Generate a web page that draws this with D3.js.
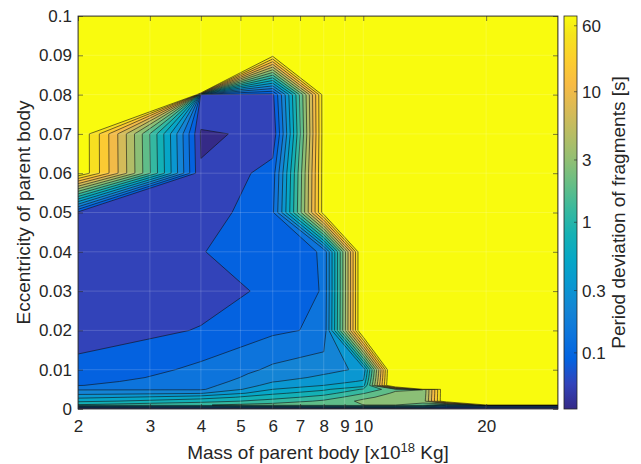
<!DOCTYPE html>
<html lang="en">
<head>
  <meta charset="utf-8">
  <script src="https://d3js.org/d3.v7.min.js"></script>
  <title>Period deviation of fragments</title>
  <style>
    body { margin: 0; background: #fff; }
    svg text { font-family: Helvetica, "Liberation Sans", Arial, sans-serif; fill: #262626; }
  </style>
</head>
<body>
<div id="my_dataviz"></div>
<script>
  // simulation grid: parent body mass [x10^18 Kg] and eccentricity
  const masses = [2, 4, 6, 8, 10, 12, 14, 16, 20, 30];
  const eccentricities = [0, 0.001, 0.002, 0.003, 0.004, 0.005, 0.006, 0.007, 0.008, 0.009,
    0.01, 0.02, 0.03, 0.04, 0.05, 0.06, 0.07, 0.08, 0.09, 0.1];

  // log10 of the period deviation [s]; one row per eccentricity (bottom to top), one column per mass
  // H = runs where the deviation blows up (saturated yellow)
  const H = 60;
  const logDeviation = [
    [-1.5, -1.5, -1.5, -1.5, -1.5, -1.5, -1.5, -1.5, -1.5, -1.5],   // 0
    [0.1, 0.25, 0.35, 0.4, 0.45, 0.45, 0.4, -0.2, -0.2, -0.2],       // 0.001
    [-0.15, 0, 0.15, 0.3, 0.5, 0.55, 0.5, 2, H, H],                  // 0.002
    [-0.35, -0.2, 0, 0.15, 0.4, 0.55, 0.48, 2, H, H],                // 0.003
    [-0.55, -0.5, -0.15, 0, 0.25, 0.5, 0.46, 2, H, H],               // 0.004
    [-0.7, -0.7, -0.3, -0.15, 0.1, 0.4, 0.45, 2, H, H],              // 0.005
    [-0.87, -0.74, -0.42, -0.3, -0.2, 2.33, H, H, H, H],             // 0.006
    [-0.9, -0.77, -0.5, -0.38, -0.28, 2.33, H, H, H, H],             // 0.007
    [-0.93, -0.79, -0.56, -0.45, -0.35, 2.33, H, H, H, H],           // 0.008
    [-0.96, -0.8, -0.6, -0.5, -0.4, 2.33, H, H, H, H],               // 0.009
    [-0.99, -0.82, -0.64, -0.55, -0.45, 2.33, H, H, H, H],           // 0.01
    [-1.15, -1.04, -0.9, -0.83, 2, H, H, H, H, H],                   // 0.02
    [-1.15, -1.15, -1, -0.85, 2, H, H, H, H, H],                     // 0.03
    [-1.15, -1.06, -0.95, -0.85, 2, H, H, H, H, H],                  // 0.04
    [-1.1, -1.15, -0.9, 1.7, H, H, H, H, H, H],                      // 0.05
    [1.78, -1.231, -0.96, 1.7, H, H, H, H, H, H],                    // 0.06
    [1.78, -1.26, -1.206, 1.7, H, H, H, H, H, H],                    // 0.07
    [H, -1.1, -1.1, 1.7, H, H, H, H, H, H],                          // 0.08
    [H, H, 1.65, H, H, H, H, H, H, H],                               // 0.09
    [H, H, H, H, H, H, H, H, H, H]                                   // 0.1
  ];

  const xTicks = [2, 3, 4, 5, 6, 7, 8, 9, 10, 20];
  const yTicks = [0, 0.01, 0.02, 0.03, 0.04, 0.05, 0.06, 0.07, 0.08, 0.09, 0.1];
  const colorTicks = [0.1, 0.3, 1, 3, 10, 32];
  const colorTickLabels = ["0.1", "0.3", "1", "3", "10", "60"];
  const colorDomain = [-1.43, 1.58];   // log10 [s] at the ends of the colour bar
  const nLevels = 16;

  // parula colormap (every 4th entry of the 64 colour table)
  const parula = ["#352a87", "#3243ba", "#0363e1", "#0d75dc", "#1485d4", "#0998d1", "#06a7c6",
    "#15b1b4", "#38b99e", "#65be86", "#92bf73", "#b7bd64", "#d9ba56", "#f8bb44", "#fcce2e",
    "#f5e41d", "#f9fb0e"];
  const parulaPos = [0, 4, 8, 12, 16, 20, 24, 28, 32, 36, 40, 44, 48, 52, 56, 60, 63].map(d => d / 63);
  const cmap = d3.scaleLinear().domain(parulaPos).range(parula).interpolate(d3.interpolateRgb);

  // set the dimensions and margins of the graph
  const margin = { top: 16, right: 83, bottom: 55, left: 78 },
    width = 641 - margin.left - margin.right,
    height = 464 - margin.top - margin.bottom;

  const svg = d3.select("#my_dataviz")
    .append("svg")
    .attr("width", width + margin.left + margin.right)
    .attr("height", height + margin.top + margin.bottom)
    .append("g")
    .attr("transform", `translate(${margin.left},${margin.top})`);

  const x = d3.scaleLog().domain([2, 30]).range([0, width]);
  const y = d3.scaleLinear().domain([0, 0.1]).range([height, 0]);

  // contour levels, evenly spaced in log10
  const step = (colorDomain[1] - colorDomain[0]) / nLevels;
  const levels = d3.range(1, nLevels + 1).map(k => colorDomain[0] + k * step);
  const levelColor = v => cmap((v - colorDomain[0]) / (colorDomain[1] - colorDomain[0]));

  const nx = masses.length, ny = eccentricities.length;
  const values = logDeviation.flat();
  const contours = d3.contours().size([nx, ny]).thresholds(levels)(values);

  // grid index (fractional) -> data value, linear between grid nodes
  function atIndex(arr, f) {
    f = Math.max(0, Math.min(arr.length - 1, f));
    const i = Math.min(Math.floor(f), arr.length - 2);
    return arr[i] + (arr[i + 1] - arr[i]) * (f - i);
  }
  const path = d3.geoPath(d3.geoTransform({
    point: function (px, py) {
      this.stream.point(x(atIndex(masses, px - 0.5)), y(atIndex(eccentricities, py - 0.5)));
    }
  }));

  svg.append("clipPath").attr("id", "plot-clip")
    .append("rect").attr("width", width).attr("height", height);

  const plot = svg.append("g").attr("clip-path", "url(#plot-clip)");

  plot.append("rect")
    .attr("width", width)
    .attr("height", height)
    .attr("fill", levelColor(colorDomain[0]));

  plot.selectAll("path.band")
    .data(contours)
    .join("path")
    .attr("class", "band")
    .attr("d", path)
    .attr("fill", d => levelColor(d.value))
    .attr("fill-rule", "evenodd")
    .attr("stroke", "#111")
    .attr("stroke-width", 0.6)
    .attr("stroke-linejoin", "round");

  // grid lines
  plot.selectAll("line.gx")
    .data(xTicks)
    .join("line")
    .attr("class", "gx")
    .attr("x1", d => x(d)).attr("x2", d => x(d))
    .attr("y1", 0).attr("y2", height)
    .attr("stroke", "#fff").attr("stroke-opacity", 0.28).attr("stroke-width", 0.6);
  plot.selectAll("line.gy")
    .data(yTicks)
    .join("line")
    .attr("class", "gy")
    .attr("x1", 0).attr("x2", width)
    .attr("y1", d => y(d)).attr("y2", d => y(d))
    .attr("stroke", "#fff").attr("stroke-opacity", 0.28).attr("stroke-width", 0.6);

  // axes, ticks pointing inwards on all four sides
  const styleAxis = g => {
    g.attr("font-size", 17).attr("font-family", null).attr("color", "#262626");
    g.select(".domain").remove();
    g.selectAll(".tick line").attr("stroke-width", 0.6);
  };
  svg.append("g")
    .attr("transform", `translate(0,${height})`)
    .call(d3.axisBottom(x).tickValues(xTicks).tickFormat(d3.format("d"))
      .tickSizeInner(-5).tickSizeOuter(0).tickPadding(11))
    .call(styleAxis);
  svg.append("g")
    .call(d3.axisTop(x).tickValues(xTicks).tickFormat("").tickSizeInner(-5).tickSizeOuter(0))
    .call(styleAxis);
  svg.append("g")
    .call(d3.axisLeft(y).tickValues(yTicks).tickFormat(d3.format("~g"))
      .tickSizeInner(-5).tickSizeOuter(0).tickPadding(6))
    .call(styleAxis);
  svg.append("g")
    .attr("transform", `translate(${width},0)`)
    .call(d3.axisRight(y).tickValues(yTicks).tickFormat("").tickSizeInner(-5).tickSizeOuter(0))
    .call(styleAxis);

  svg.append("rect")
    .attr("width", width).attr("height", height)
    .attr("fill", "none").attr("stroke", "#262626").attr("stroke-width", 0.8);

  // axis titles
  const xTitle = svg.append("text")
    .attr("x", width / 2).attr("y", height + 50)
    .attr("text-anchor", "middle").attr("font-size", 19)
    .text("Mass of parent body [x10");
  xTitle.append("tspan").attr("dy", -7).attr("font-size", 13).text("18");
  xTitle.append("tspan").attr("dy", 7).text(" Kg]");

  svg.append("text")
    .attr("transform", `translate(-48,${height / 2}) rotate(-90)`)
    .attr("text-anchor", "middle").attr("font-size", 19)
    .text("Eccentricity of parent body");

  // colour bar
  const cbX = width + 6, cbW = 13;
  const cb = d3.scaleLog()
    .domain(colorDomain.map(v => Math.pow(10, v)))
    .range([height, 0]);

  const grad = svg.append("defs").append("linearGradient")
    .attr("id", "cb-grad")
    .attr("x1", 0).attr("y1", 1).attr("x2", 0).attr("y2", 0);
  grad.selectAll("stop")
    .data(parulaPos)
    .join("stop")
    .attr("offset", d => d)
    .attr("stop-color", (d, i) => parula[i]);

  const cbg = svg.append("g").attr("transform", `translate(${cbX},0)`);
  cbg.append("rect")
    .attr("width", cbW).attr("height", height)
    .attr("fill", "url(#cb-grad)")
    .attr("stroke", "#262626").attr("stroke-width", 0.8);
  cbg.selectAll("line.ct")
    .data(colorTicks)
    .join("line")
    .attr("class", "ct")
    .attr("x1", cbW - 3).attr("x2", cbW)
    .attr("y1", d => cb(d)).attr("y2", d => cb(d))
    .attr("stroke", "#262626").attr("stroke-width", 0.6);
  cbg.selectAll("text.ct")
    .data(colorTicks)
    .join("text")
    .attr("class", "ct")
    .attr("x", cbW + 5)
    .attr("y", d => cb(d))
    .attr("dy", "0.36em")
    .attr("font-size", 17)
    .text((d, i) => colorTickLabels[i]);

  svg.append("text")
    .attr("transform", `translate(${cbX + 61},${height / 2}) rotate(-90)`)
    .attr("text-anchor", "middle").attr("font-size", 19)
    .text("Period deviation of fragments [s]");
</script>
</body>
</html>
